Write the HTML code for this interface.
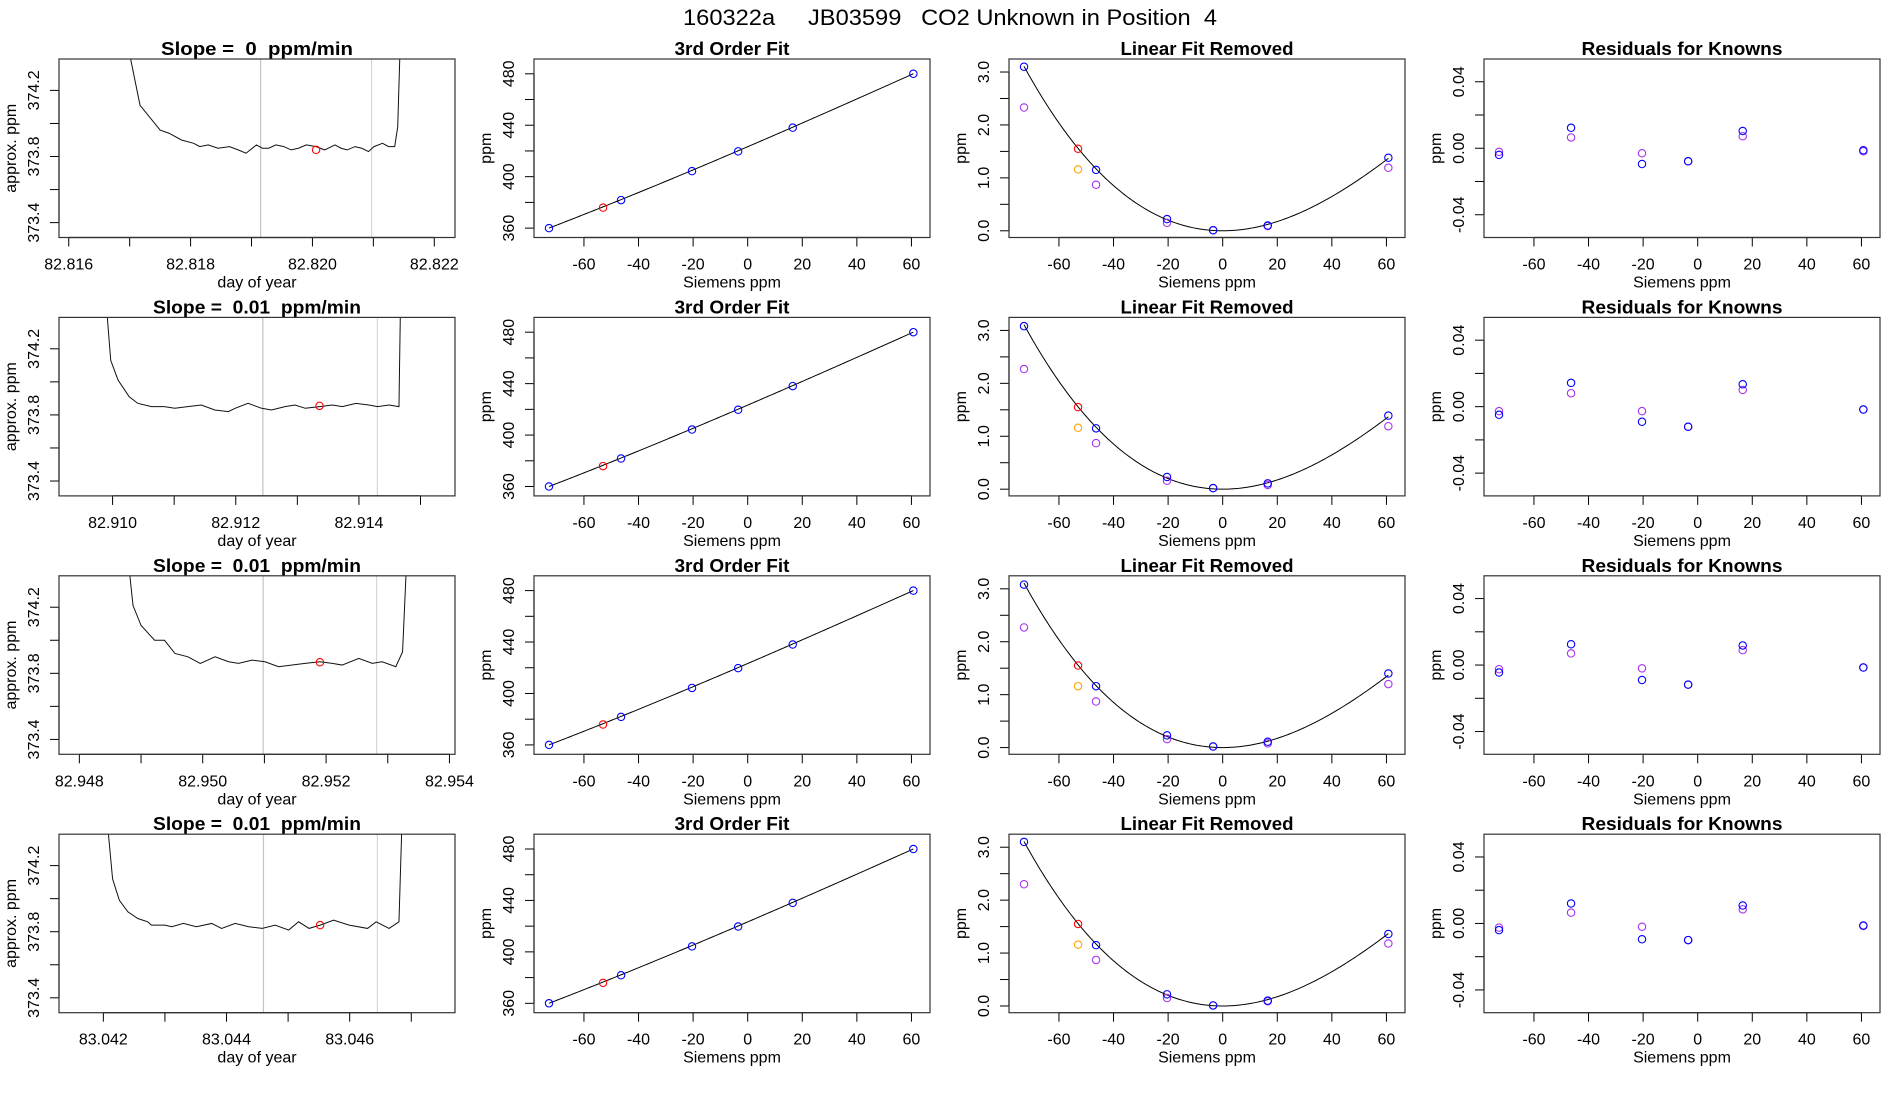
<!DOCTYPE html>
<html><head><meta charset="utf-8">
<style>
html,body{margin:0;padding:0;background:#fff;}
svg{display:block;font-family:"Liberation Sans",sans-serif;}
</style></head>
<body>
<svg id="chart" width="1900" height="1100" viewBox="0 0 1900 1100" xmlns="http://www.w3.org/2000/svg">
<rect x="0" y="0" width="1900" height="1100" fill="#fff"/>
<text x="683" y="25" font-size="22" textLength="534" lengthAdjust="spacingAndGlyphs" style="white-space:pre">160322a     JB03599   CO2 Unknown in Position  4</text>
</svg>
<script>
// ---------- data ----------
const slopeTitles = ["Slope =  0  ppm/min","Slope =  0.01  ppm/min","Slope =  0.01  ppm/min","Slope =  0.01  ppm/min"];
const timeRanges = [[82.81584,82.82234],[82.90913,82.91556],[82.94767,82.95409],[83.04128,83.04771]];
const timeTicksStart = [82.816, 82.910, 82.948, 83.042];
const timeTickCount = [7, 6, 7, 6];
const timeLabelPrecision = 3;
const traceT0 = [82.81690,82.81717,82.81750,82.81765,82.81785,82.81805,82.81815,82.81829,82.81845,82.81864,82.81878,82.81891,82.81908,82.81918,82.81928,82.81940,82.81953,82.81965,82.81977,82.81990,82.82006,82.82020,82.82037,82.82047,82.82057,82.82070,82.82081,82.82092,82.82101,82.82115,82.82125,82.82135,82.82140,82.82145];
const traceV0 = [374.6,374.11,373.96,373.94,373.90,373.88,373.86,373.87,373.85,373.86,373.84,373.82,373.87,373.85,373.85,373.87,373.86,373.84,373.85,373.87,373.86,373.84,373.87,373.85,373.84,373.86,373.85,373.83,373.86,373.88,373.86,373.86,373.98,374.6];
const traceT1 = [82.90987,82.90997,82.91009,82.91027,82.91041,82.91063,82.91084,82.91101,82.91122,82.91144,82.91166,82.91188,82.91199,82.91220,82.91242,82.91258,82.91280,82.91296,82.91313,82.91336,82.91357,82.91373,82.91395,82.91416,82.91430,82.91449,82.91465,82.91468];
const traceV1 = [374.6,374.13,374.01,373.91,373.87,373.85,373.85,373.84,373.85,373.86,373.83,373.82,373.84,373.87,373.84,373.83,373.85,373.86,373.84,373.85,373.86,373.85,373.87,373.86,373.85,373.86,373.85,374.6];
const traceT2 = [82.94876,82.94887,82.94900,82.94922,82.94938,82.94955,82.94976,82.94996,82.95020,82.95042,82.95058,82.95080,82.95101,82.95123,82.95145,82.95166,82.95190,82.95210,82.95226,82.95253,82.95275,82.95291,82.95313,82.95324,82.95332];
const traceV2 = [374.6,374.21,374.09,374.00,374.00,373.92,373.90,373.86,373.90,373.87,373.86,373.88,373.87,373.84,373.85,373.86,373.87,373.86,373.85,373.89,373.86,373.87,373.84,373.93,374.6];
const traceT3 = [83.04203,83.04215,83.04226,83.04240,83.04256,83.04272,83.04278,83.04300,83.04311,83.04330,83.04351,83.04376,83.04392,83.04414,83.04436,83.04458,83.04479,83.04501,83.04517,83.04534,83.04552,83.04574,83.04599,83.04629,83.04643,83.04664,83.04680,83.04686];
const traceV3 = [374.6,374.12,373.99,373.92,373.88,373.86,373.84,373.84,373.83,373.85,373.83,373.85,373.82,373.85,373.83,373.82,373.84,373.81,373.86,373.82,373.84,373.87,373.84,373.82,373.86,373.82,373.86,374.6];
const traceTimes = [traceT0, traceT1, traceT2, traceT3];
const traceValues = [traceV0, traceV1, traceV2, traceV3];
const windowStart = [82.81915, 82.91244, 82.95098, 83.04460];
const windowEnd = [82.82097, 82.91430, 82.95282, 83.04645];
const unknownTime = [82.82006, 82.91336, 82.95190, 83.04552];
const unknownValue = [373.84, 373.855, 373.867, 373.84];

const ppmRange = [373.31, 374.39];
const ppmTicks = [373.4, 373.6, 373.8, 374.0, 374.2];
const ppmLabels = ["373.4", "", "373.8", "", "374.2"];

const siemensRange = [-78.3, 66.8];
const siemensTicks = [-60, -40, -20, 0, 20, 40, 60];
const knownX = [-72.8, -46.4, -20.4, -3.5, 16.5, 60.7];
const knownY = [360, 381.8, 404.3, 419.7, 438.1, 480.0];
const unknownX = -53.0;
const unknownY = 375.9;

const fitRange = [352.7, 491.5];
const fitTicks = [360, 380, 400, 420, 440, 460, 480];
const fitLabels = ["360", "", "400", "", "440", "", "480"];
const cubicCoef = [423.3, 0.912, 4.691e-4, -1.611e-6];

const linRange = [-0.127, 3.246];
const linTicks = [0, 0.5, 1, 1.5, 2, 2.5, 3];
const linLabels = ["0.0", "", "1.0", "", "2.0", "", "3.0"];
const quadCoef = [0, 0, 4.691e-4, -1.611e-6];
const linBlue = [[3.10,1.15,0.22,0.01,0.10,1.38],[3.08,1.15,0.23,0.02,0.11,1.39],[3.08,1.16,0.23,0.02,0.11,1.40],[3.10,1.15,0.22,0.01,0.10,1.36]];
const linPurple = [[2.33,0.87,0.15,0.01,0.09,1.19],[2.27,0.87,0.16,0.02,0.08,1.19],[2.27,0.87,0.16,0.02,0.08,1.20],[2.30,0.87,0.15,0.01,0.09,1.18]];
const linRed = [1.55, 1.55, 1.55, 1.55];
const linOrange = [1.16, 1.16, 1.16, 1.16];

const resRange = [-0.0537, 0.0537];
const resTicks = [-0.04, -0.02, 0, 0.02, 0.04];
const resLabels = ["-0.04", "", "0.00", "", "0.04"];
const resBlue = [[-0.0040,0.0123,-0.0095,-0.0078,0.0104,-0.0012],[-0.0049,0.0143,-0.0091,-0.0121,0.0135,-0.0017],[-0.0045,0.0125,-0.0090,-0.0118,0.0118,-0.0015],[-0.0040,0.0120,-0.0095,-0.0100,0.0108,-0.0012]];
const resPurple = [[-0.0022,0.0065,-0.0030,-0.0078,0.0072,-0.0018],[-0.0027,0.0081,-0.0027,-0.0121,0.0100,-0.0017],[-0.0025,0.0070,-0.0020,-0.0118,0.0090,-0.0015],[-0.0025,0.0065,-0.0020,-0.0100,0.0085,-0.0015]];

// ---------- drawing ----------
const svg = document.getElementById('chart');
const NS = 'http://www.w3.org/2000/svg';
const CELL_W = 475, BOX_L = 59, BOX_R = 455, BOX_H = 178.5;
const rowTop = r => 59 + 258.4 * r;
function mk(tag, attrs, parent) {
  const e = document.createElementNS(NS, tag);
  for (const k in attrs) e.setAttribute(k, attrs[k]);
  (parent || svg).appendChild(e);
  return e;
}
function scale(d0, d1, p0, p1) { return v => p0 + (v - d0) / (d1 - d0) * (p1 - p0); }

function panel(row, col, title, titleLen, xlab, ylab, xr, yr) {
  const g = mk('g', {});
  
  
  const x0 = col * CELL_W + BOX_L, x1 = col * CELL_W + BOX_R;
  const y0 = rowTop(row), y1 = y0 + BOX_H;
  const sx = scale(xr[0], xr[1], x0, x1), sy = scale(yr[0], yr[1], y1, y0);
  const t = mk('text', {x: (x0 + x1) / 2, y: y0 - 4, 'font-size': 18, 'font-weight': 'bold', 'text-anchor': 'middle', style: 'white-space:pre', textLength: titleLen, lengthAdjust: 'spacingAndGlyphs'}, g);
  t.textContent = title;
  
  
  const xl = mk('text', {x: (x0 + x1) / 2, y: y1 + 50, 'font-size': 16, 'text-anchor': 'middle'}, g);
  xl.textContent = xlab;
  
  
  const yc = (y0 + y1) / 2, yx = col * CELL_W + 16;
  const yl = mk('text', {x: yx, y: yc, 'font-size': 16, 'text-anchor': 'middle', transform: `rotate(-90 ${yx} ${yc})`}, g);
  yl.textContent = ylab;
  
  
  return {g, sx, sy, x0, x1, y0, y1, col};
}
function box(p) {
  const r = mk('rect', {x: p.x0, y: p.y0, width: p.x1 - p.x0, height: p.y1 - p.y0, fill: 'none', stroke: '#333', 'stroke-width': 1.2}, p.g);
  
  
}
function xAxis(p, ticks, labels) {
  const ax = mk('g', {}, p.g);
  
  
  const a = p.sx(ticks[0]), b = p.sx(ticks[ticks.length - 1]);
  mk('line', {x1: a, x2: b, y1: p.y1, y2: p.y1, stroke: '#000', 'stroke-width': 1.2}, ax);
  ticks.forEach((v, i) => {
    const x = p.sx(v);
    mk('line', {x1: x, x2: x, y1: p.y1, y2: p.y1 + 9, stroke: '#000', 'stroke-width': 1}, ax);
    if (labels[i]) {
      const t = mk('text', {x: x, y: p.y1 + 32, 'font-size': 16, 'text-anchor': 'middle'}, ax);
      t.textContent = labels[i];
      
      
    }
  });
}
function yAxis(p, ticks, labels) {
  const ax = mk('g', {}, p.g);
  
  
  const a = p.sy(ticks[0]), b = p.sy(ticks[ticks.length - 1]);
  mk('line', {x1: p.x0, x2: p.x0, y1: a, y2: b, stroke: '#000', 'stroke-width': 1.2}, ax);
  const lx = p.col * CELL_W + 39;
  ticks.forEach((v, i) => {
    const y = p.sy(v);
    mk('line', {x1: p.x0, x2: p.x0 - 9, y1: y, y2: y, stroke: '#000', 'stroke-width': 1}, ax);
    if (labels[i]) {
      const t = mk('text', {x: lx, y: y, 'font-size': 16, 'text-anchor': 'middle', transform: `rotate(-90 ${lx} ${y})`}, ax);
      t.textContent = labels[i];
      
      
    }
  });
}
function pt(p, x, y, color, name) {
  const c = mk('circle', {cx: p.sx(x), cy: p.sy(y), r: 3.7, fill: 'none', stroke: color, 'stroke-width': 1.1}, p.g);
  
  
}
function poly(c, x) { return c[0] + c[1] * x + c[2] * x * x + c[3] * x * x * x; }
function curve(p, coef, name) {
  let d = '';
  for (let i = 0; i <= 200; i++) {
    const x = knownX[0] + (knownX[knownX.length - 1] - knownX[0]) * i / 200;
    d += (i ? 'L' : 'M') + p.sx(x).toFixed(2) + ',' + p.sy(poly(coef, x)).toFixed(2);
  }
  const e = mk('path', {d: d, fill: 'none', stroke: '#000', 'stroke-width': 1}, p.g);
  
  
}

const siemensLabels = siemensTicks.map(String);
for (let r = 0; r < 4; r++) {
  const p1 = panel(r, 0, slopeTitles[r], r === 0 ? 192 : 208, 'day of year', 'approx. ppm', timeRanges[r], ppmRange);
  const clipId = 'clip' + r;
  const cp = mk('clipPath', {id: clipId}, p1.g);
  mk('rect', {x: p1.x0, y: p1.y0, width: p1.x1 - p1.x0, height: p1.y1 - p1.y0}, cp);
  [windowStart[r], windowEnd[r]].forEach((t, k) => {
    const l = mk('line', {x1: p1.sx(t), x2: p1.sx(t), y1: p1.y0, y2: p1.y1, stroke: k ? '#d6d6d6' : '#c4c4c4', 'stroke-width': 1.2}, p1.g);
    
    
  });
  const tt = traceTimes[r], tv = traceValues[r];
  const d = tt.map((t, i) => (i ? 'L' : 'M') + p1.sx(t).toFixed(2) + ',' + p1.sy(tv[i]).toFixed(2)).join('');
  const tr = mk('path', {d: d, fill: 'none', stroke: '#111', 'stroke-width': 1, 'clip-path': `url(#${clipId})`}, p1.g);
  
  
  pt(p1, unknownTime[r], unknownValue[r], '#ff0000', 'unknown-mean-point');
  const tticks = [], tlabels = [];
  for (let i = 0; i < timeTickCount[r]; i++) {
    const v = timeTicksStart[r] + i * 0.001;
    tticks.push(v);
    tlabels.push(i % 2 === 0 ? v.toFixed(timeLabelPrecision) : '');
  }
  xAxis(p1, tticks, tlabels);
  yAxis(p1, ppmTicks, ppmLabels);
  box(p1);

  const p2 = panel(r, 1, '3rd Order Fit', 115, 'Siemens ppm', 'ppm', siemensRange, fitRange);
  curve(p2, cubicCoef, 'cubic-fit-line');
  knownX.forEach((x, i) => pt(p2, x, knownY[i], '#0000ff', 'known-standard-point'));
  pt(p2, unknownX, unknownY, '#ff0000', 'unknown-point');
  xAxis(p2, siemensTicks, siemensLabels);
  yAxis(p2, fitTicks, fitLabels);
  box(p2);

  const p3 = panel(r, 2, 'Linear Fit Removed', 173, 'Siemens ppm', 'ppm', siemensRange, linRange);
  curve(p3, quadCoef, 'nonlinear-residual-curve');
  knownX.forEach((x, i) => pt(p3, x, linPurple[r][i], '#a832f0', 'known-point-purple'));
  knownX.forEach((x, i) => pt(p3, x, linBlue[r][i], '#0000ff', 'known-point-blue'));
  pt(p3, unknownX, linOrange[r], '#ffa500', 'unknown-point-orange');
  pt(p3, unknownX, linRed[r], '#ff0000', 'unknown-point-red');
  xAxis(p3, siemensTicks, siemensLabels);
  yAxis(p3, linTicks, linLabels);
  box(p3);

  const p4 = panel(r, 3, 'Residuals for Knowns', 201, 'Siemens ppm', 'ppm', siemensRange, resRange);
  knownX.forEach((x, i) => pt(p4, x, resPurple[r][i], '#a832f0', 'residual-point-purple'));
  knownX.forEach((x, i) => pt(p4, x, resBlue[r][i], '#0000ff', 'residual-point-blue'));
  xAxis(p4, siemensTicks, siemensLabels);
  yAxis(p4, resTicks, resLabels);
  box(p4);
}
</script>
</body></html>
